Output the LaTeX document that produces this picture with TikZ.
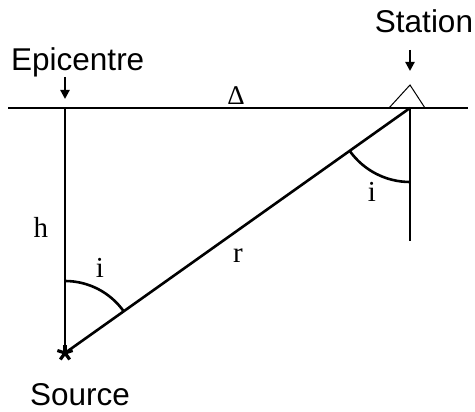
\documentclass[tikz,border=0pt]{standalone}
\usepackage{fontspec}
\setmainfont{Liberation Serif}
\setsansfont{Liberation Sans}
\usetikzlibrary{arrows.meta}
\tikzset{
  line/.style={line width=2.6pt},
  thin line/.style={line width=1pt},
  sanslab/.style={inner sep=0pt, anchor=base, font=\sffamily\fontsize{31.5}{36}\selectfont},
  seriflab/.style={inner sep=0pt, anchor=base, font=\rmfamily\fontsize{29}{32}\selectfont},
  pointer/.style={line width=2.2pt, -{Triangle[length=9pt,width=9pt]}}
}
\begin{document}
\begin{tikzpicture}[x=1pt,y=-1pt]
\useasboundingbox (0,0) rectangle (475,412);
% key points
\coordinate (sl) at (8,108);
\coordinate (sr) at (468,108);
\coordinate (epi) at (65,108);
\coordinate (sta) at (410,108);
\coordinate (src) at (65,353);
\coordinate (stabot) at (410,241);
% surface
\draw[line] (sl) -- (sr);
% station triangle
\coordinate (t1) at (389,108);
\coordinate (t2) at (410,85);
\coordinate (t3) at (425,108);
\draw[thin line] (t1) -- (t2) -- (t3);
% verticals and ray
\draw[line] (epi) -- (src);
\draw[line] (sta) -- (stabot);
\draw[line] (sta) -- (src);
% angle arcs (y axis flipped: angles measured clockwise)
\draw[line] (src) ++(-90:72) arc[start angle=-90, end angle=-35.3, radius=72];
\draw[line] (sta) ++(90:74) arc[start angle=90, end angle=144.7, radius=74];
% star at source
\foreach \a in {-90,-18,54,126,198}
  \draw[line width=3.2pt] (src) -- ++(\a:8);
% pointers
\coordinate (ea) at (65,77);
\coordinate (eb) at (65,99);
\draw[pointer] (ea) -- (eb);
\coordinate (sa) at (410,50);
\coordinate (sb) at (410,71);
\draw[pointer] (sa) -- (sb);
% labels
\node[sanslab, anchor=base west] (epil) at (11,71) {Epicentre};
\node[sanslab] (stal) at (424,33) {Station};
\node[sanslab] (srcl) at (80,405) {Source};
\node[seriflab] (hl) at (41,238) {h};
\node[seriflab] (rl) at (238,262) {r};
\node[seriflab] (i1) at (100,277) {i};
\node[seriflab] (i2) at (372,202) {i};
\node[inner sep=0pt, anchor=base, font=\rmfamily\fontsize{27}{30}\selectfont] (dl) at (236,105) {Δ};
\end{tikzpicture}
\end{document}
